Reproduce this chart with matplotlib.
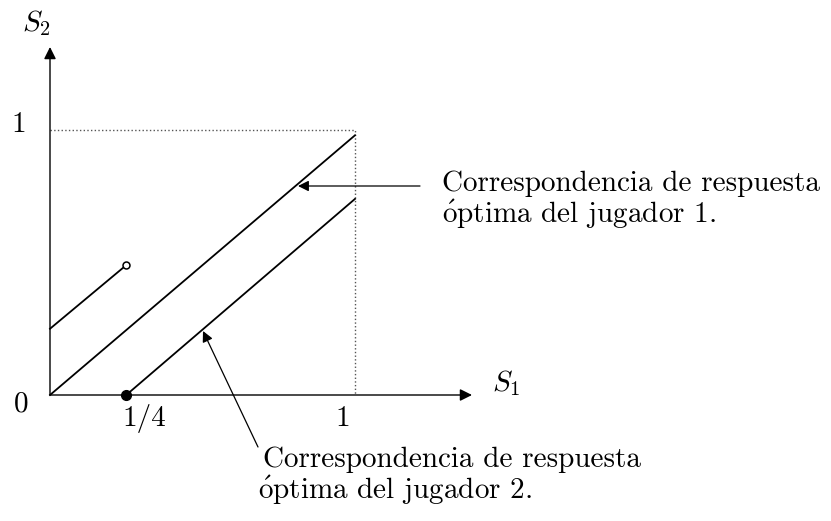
import numpy as np
import matplotlib
matplotlib.use('Agg')
import matplotlib.pyplot as plt

plt.rcParams['font.family'] = ['cmr10', 'DejaVu Serif']
plt.rcParams['mathtext.fontset'] = 'cm'
plt.rcParams['axes.unicode_minus'] = False

# datos
br1_x = [0.0, 1.0]          # correspondencia jugador 1
br1_y = [0.0, 0.98]
br2_x = [0.25, 1.0]         # correspondencia jugador 2
br2_y = [0.0, 0.74]
seg_x = [0.0, 0.25]         # tramo corto con circulo abierto
seg_y = [0.25, 0.49]
dot_lleno = (0.25, 0.0)
dot_vacio = (0.25, 0.49)
caja_x = [0.0, 1.0, 1.0]
caja_y = [1.0, 1.0, 0.0]

texto1 = ["Correspondencia de respuesta", r"$\mathrm{\acute{o}}$ptima del jugador 1."]
texto2 = ["Correspondencia de respuesta", r"$\mathrm{\acute{o}}$ptima del jugador 2."]

W, H = 831, 521
fig = plt.figure(figsize=(W / 100, H / 100), dpi=100)
ax = fig.add_axes([0, 0, 1, 1])
# pixel -> datos: x0=50px, x1=355px ; y0=395px, y1=130px (desde arriba)
ux, uy = 305.0, 265.0
ax.set_xlim(-50 / ux, (W - 50) / ux)
ax.set_ylim(-(H - 395) / uy, 395 / uy)
ax.axis('off')

def px(x, y):
    # coordenadas en pixeles -> datos
    return (x - 50) / ux, (395 - y) / uy

# ejes con flechas
ax.annotate('', xy=px(472, 395), xytext=(0, 0),
            arrowprops=dict(arrowstyle='-|>', lw=1.0, color='black', mutation_scale=18, shrinkA=0, shrinkB=0))
ax.annotate('', xy=px(50, 47), xytext=(0, 0),
            arrowprops=dict(arrowstyle='-|>', lw=1.0, color='black', mutation_scale=18, shrinkA=0, shrinkB=0))

# caja punteada
ax.plot(caja_x, caja_y, ls=':', lw=1.0, color='#555555')

# lineas
ax.plot(br1_x, br1_y, color='black', lw=1.3)
ax.plot(br2_x, br2_y, color='black', lw=1.3)
ax.plot(seg_x, seg_y, color='black', lw=1.3)
ax.plot(*dot_lleno, 'o', color='black', ms=7, zorder=5)
ax.plot(*dot_vacio, 'o', mfc='white', mec='black', mew=1.1, ms=5, zorder=5)

fs = 21
ax.text(*px(22, 31), r'$S_2$', fontsize=fs, ha='left', va='baseline')
ax.text(*px(492, 391), r'$S_1$', fontsize=fs, ha='left', va='baseline')
ax.text(*px(21, 412), '0', fontsize=fs, ha='center', va='baseline')
ax.text(*px(19, 132), '1', fontsize=fs, ha='center', va='baseline')
ax.text(*px(122, 426), '1/4', fontsize=fs, ha='left', va='baseline')
ax.text(*px(343, 426), '1', fontsize=fs, ha='center', va='baseline')

# anotaciones
ax.annotate('', xy=px(298, 186), xytext=px(420, 186),
            arrowprops=dict(arrowstyle='-|>', lw=0.9, color='black', mutation_scale=16, shrinkA=0, shrinkB=0))
ax.text(*px(442, 191), texto1[0], fontsize=fs, ha='left', va='baseline')
ax.text(*px(442, 223), texto1[1], fontsize=fs, ha='left', va='baseline')

ax.annotate('', xy=px(203, 331), xytext=px(258, 447),
            arrowprops=dict(arrowstyle='-|>', lw=0.9, color='black', mutation_scale=16, shrinkA=0, shrinkB=0))
ax.text(*px(263, 467), texto2[0], fontsize=fs, ha='left', va='baseline')
ax.text(*px(258, 499), texto2[1], fontsize=fs, ha='left', va='baseline')

fig.savefig('out.png', dpi=100)
